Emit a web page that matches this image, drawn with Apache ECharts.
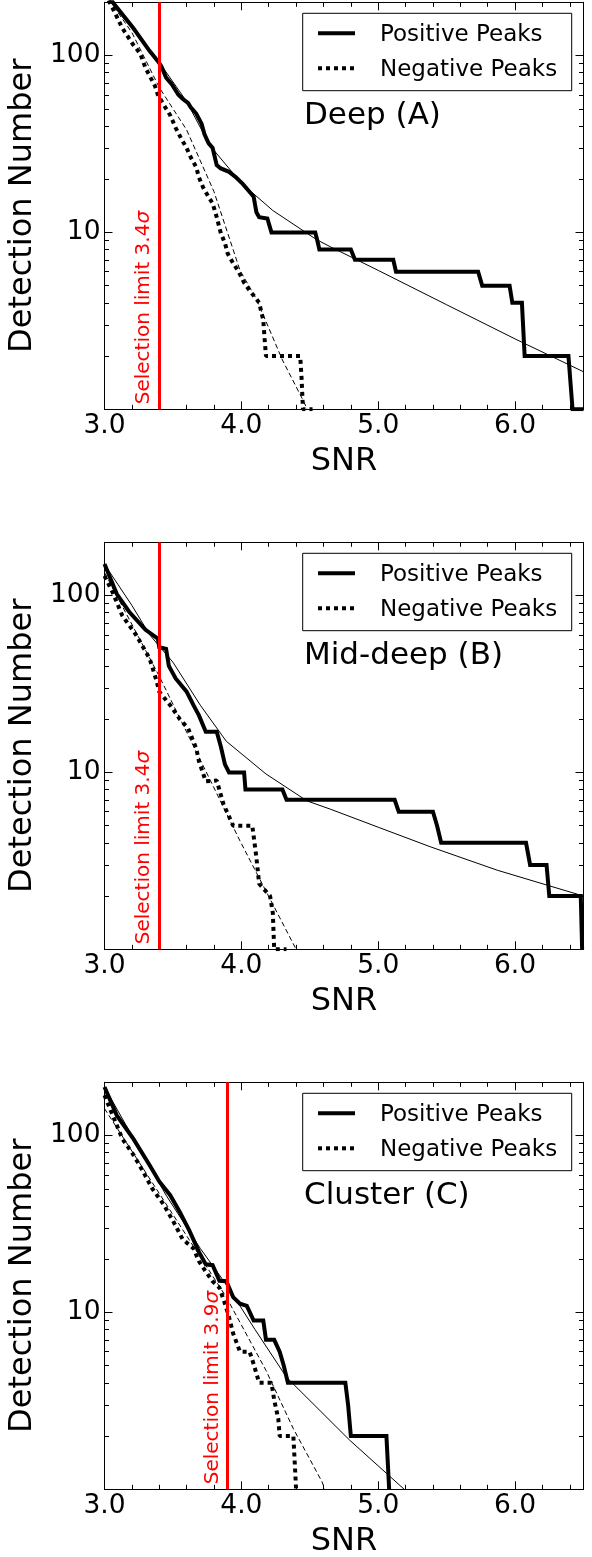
<!DOCTYPE html>
<html>
<head>
<meta charset="utf-8">
<script src="https://cdn.jsdelivr.net/npm/echarts@6/dist/echarts.min.js"></script>
<style>
  html, body { margin: 0; padding: 0; background: #fff; }
  #chart { width: 592px; height: 1557px; }
</style>
</head>
<body>
<div id="chart"></div>
<script>
// ---- axis ranges and ticks ----
const X_MIN = 3.0, X_MAX = 6.5;
const Y_MIN = 1, Y_MAX = 200;
const xMajorTicks = [3, 4, 5, 6];
const xMinorTicks = [3.2, 3.4, 3.6, 3.8, 4.2, 4.4, 4.6, 4.8, 5.2, 5.4, 5.6, 5.8, 6.2, 6.4];
const yMajorTicks = [10, 100];
const yMinorTicks = [2, 3, 4, 5, 6, 7, 8, 9, 20, 30, 40, 50, 60, 70, 80, 90];

const panelTitles = ['Deep (A)', 'Mid-deep (B)', 'Cluster (C)'];
const selectionLimits = [3.4, 3.4, 3.9];
const legendNames = ['Positive Peaks', 'Negative Peaks'];

// ---- cumulative detections: [SNR, N(>SNR)] ----
const posA = [[3.04,215],[3.06,200],[3.21,143],[3.33,106],[3.39,93],[3.415,87],[3.45,75],[3.49,69],[3.54,60],[3.57,57],[3.61,54],[3.63,51],[3.67,47],[3.71,41],[3.73,36],[3.76,32],[3.79,30],[3.82,24],[3.85,23],[3.91,22],[3.96,20.5],[4.01,18.8],[4.05,17.3],[4.09,15.9],[4.11,13],[4.13,12.2],[4.19,12],[4.22,10],[4.54,10],[4.555,9],[4.57,8],[4.80,8],[4.83,7],[5.11,7],[5.13,6],[5.73,6],[5.76,5],[5.96,5],[5.98,4],[6.05,4],[6.07,2],[6.39,2],[6.42,1],[6.5,1]];
const negA = [[3.03,205],[3.06,185],[3.13,143],[3.21,115],[3.26,103],[3.30,85],[3.37,67],[3.39,60],[3.43,53],[3.48,46],[3.52,39],[3.56,34],[3.60,30],[3.63,26.6],[3.67,23.4],[3.69,20.5],[3.72,18],[3.76,15.9],[3.79,14.6],[3.82,12.2],[3.85,9.9],[3.88,8.7],[3.90,7.6],[3.94,6.7],[3.98,6],[4.02,5.2],[4.06,4.7],[4.11,4.2],[4.13,4],[4.16,3.2],[4.17,2.5],[4.18,2],[4.43,2],[4.44,1.5],[4.45,1],[4.52,1]];
const fitPosA = [[3.0,230],[3.2,145],[3.39,94],[3.6,55],[3.77,31],[4.0,19],[4.23,13.3],[4.55,9.1],[4.65,8.3],[5.0,6.1],[5.5,3.9],[6.0,2.5],[6.5,1.63]];
const fitNegA = [[3.0,225],[3.2,135],[3.4,66],[3.6,38],[3.8,17],[3.99,6.1],[4.11,4.2],[4.3,1.9],[4.46,1.09],[4.48,1.0]];

const posB = [[3.0,151],[3.09,102],[3.18,81],[3.30,64],[3.39,57],[3.40,51],[3.45,50],[3.47,40],[3.52,34],[3.60,28.6],[3.65,24],[3.69,21],[3.74,17],[3.82,17],[3.85,14],[3.88,11.1],[3.91,10],[4.02,10],[4.03,8],[4.30,8],[4.33,7],[5.12,7],[5.15,6],[5.40,6],[5.43,5],[5.46,4],[6.08,4],[6.11,3],[6.23,3],[6.25,2],[6.48,2],[6.49,1]];
const negB = [[3.0,129],[3.06,104],[3.13,77],[3.23,60],[3.33,44],[3.38,33],[3.40,28.6],[3.48,24],[3.55,20],[3.61,17.8],[3.67,13.7],[3.69,11.6],[3.74,8.9],[3.82,9],[3.87,6.6],[3.94,5],[4.08,5],[4.11,3.3],[4.13,2.35],[4.21,2],[4.23,1.6],[4.24,1],[4.33,1]];
const fitPosB = [[3.0,150],[3.1,115],[3.2,88],[3.33,60],[3.5,42],[3.7,24],[3.89,15],[4.18,9.8],[4.48,6.9],[4.65,6.2],[5.0,4.9],[5.38,3.8],[5.87,2.8],[6.5,2.0]];
const fitNegB = [[3.0,135],[3.4,35],[3.99,4.1],[4.40,1.0]];

const posC = [[3.0,188],[3.09,130],[3.21,96],[3.33,68],[3.40,55],[3.48,46],[3.55,37],[3.62,29],[3.69,22],[3.74,18.7],[3.79,18.5],[3.84,15.1],[3.89,15],[3.94,12.2],[3.99,11.2],[4.04,10.9],[4.09,9],[4.16,9],[4.18,7],[4.24,7],[4.28,6],[4.31,5],[4.34,4],[4.76,4],[4.78,3],[4.80,2],[5.06,2],[5.08,1]];
const negC = [[3.0,169],[3.06,130],[3.13,96],[3.21,78],[3.28,63],[3.35,50],[3.43,41],[3.50,33],[3.57,26],[3.65,23],[3.69,19.5],[3.74,17],[3.79,15],[3.84,13.8],[3.88,11.2],[3.91,9.4],[3.94,7.6],[3.99,6],[4.06,6],[4.09,5.1],[4.13,4],[4.22,4],[4.24,3.2],[4.27,2.5],[4.28,2],[4.38,2],[4.40,1],[4.42,1]];
const fitPosC = [[3.0,188],[3.2,100],[3.45,46],[3.7,23],[3.9,14],[4.1,8],[4.33,4.3],[4.79,1.9],[5.19,1.0]];
const fitNegC = [[3.0,142],[3.45,41],[3.89,12.2],[4.18,4.7],[4.38,2.2],[4.59,1.1],[4.61,1.0]];

const panels = [
  { pos: posA, neg: negA, fitPos: fitPosA, fitNeg: fitNegA },
  { pos: posB, neg: negB, fitPos: fitPosB, fitNeg: fitNegB },
  { pos: posC, neg: negC, fitPos: fitPosC, fitNeg: fitNegC }
];

// ---- layout ----
const FONT = 'DejaVu Sans';
const GRID_LEFT = 104.5, GRID_W = 479, GRID_H = 407;
const GRID_TOPS = [2.3, 542.3, 1082.3];
const TICK_COLOR = '#000';
const SPINE = { show: true, lineStyle: { color: '#000', width: 1 } };

function tick(values, len) {
  return { show: true, inside: true, length: len, customValues: values,
           lineStyle: { color: TICK_COLOR, width: 1 } };
}

const grids = [], xAxes = [], yAxes = [], series = [], graphics = [];

panels.forEach((p, i) => {
  const top = GRID_TOPS[i];
  grids.push({ left: GRID_LEFT, top: top, width: GRID_W, height: GRID_H,
               containLabel: false, outerBoundsMode: 'none' });

  const xb = { gridIndex: i, type: 'value', min: X_MIN, max: X_MAX,
               splitLine: { show: false }, axisLabel: { show: false } };
  xAxes.push(Object.assign({}, xb, {
    position: 'bottom', axisLine: SPINE, axisTick: tick(xMajorTicks, 8),
    axisLabel: { show: true, customValues: xMajorTicks, formatter: v => v.toFixed(1),
                 color: '#000', fontFamily: FONT, fontSize: 26.5, margin: 3 },
    name: 'SNR', nameLocation: 'middle', nameGap: 36,
    nameTextStyle: { color: '#000', fontFamily: FONT, fontSize: 32 }
  }));
  xAxes.push(Object.assign({}, xb, { position: 'bottom', axisLine: { show: false }, axisTick: tick(xMinorTicks, 4.5) }));
  xAxes.push(Object.assign({}, xb, { position: 'top', axisLine: SPINE, axisTick: tick(xMajorTicks, 8) }));
  xAxes.push(Object.assign({}, xb, { position: 'top', axisLine: { show: false }, axisTick: tick(xMinorTicks, 4.5) }));

  const yb = { gridIndex: i, type: 'log', logBase: 10, min: Y_MIN, max: Y_MAX,
               splitLine: { show: false }, axisLabel: { show: false } };
  yAxes.push(Object.assign({}, yb, {
    position: 'left', axisLine: SPINE, axisTick: tick(yMajorTicks, 8),
    axisLabel: { show: true, customValues: yMajorTicks, color: '#000',
                 fontFamily: FONT, fontSize: 26.5, margin: 4 },
    name: 'Detection Number', nameLocation: 'middle', nameGap: 60,
    nameTextStyle: { color: '#000', fontFamily: FONT, fontSize: 32 }
  }));
  yAxes.push(Object.assign({}, yb, { position: 'left', axisLine: { show: false }, axisTick: tick(yMinorTicks, 4.5) }));
  yAxes.push(Object.assign({}, yb, { position: 'right', axisLine: SPINE, axisTick: tick(yMajorTicks, 8) }));
  yAxes.push(Object.assign({}, yb, { position: 'right', axisLine: { show: false }, axisTick: tick(yMinorTicks, 4.5) }));

  const ax = { xAxisIndex: 4 * i, yAxisIndex: 4 * i, type: 'line', showSymbol: false,
               symbol: 'none', silent: true, animation: false, clip: true };

  // fitted models
  series.push(Object.assign({}, ax, { name: 'fit+', data: p.fitPos,
    lineStyle: { color: '#000', width: 1 } }));
  series.push(Object.assign({}, ax, { name: 'fit-', data: p.fitNeg,
    lineStyle: { color: '#000', width: 1, type: [5, 3] } }));
  // negative peaks (dotted)
  series.push(Object.assign({}, ax, { name: legendNames[1], data: p.neg,
    lineStyle: { color: '#000', width: 4, type: [4, 4], cap: 'butt' } }));
  // positive peaks (solid) + selection limit
  const lim = selectionLimits[i];
  series.push(Object.assign({}, ax, { name: legendNames[0], data: p.pos,
    lineStyle: { color: '#000', width: 4, join: 'miter' },
    markLine: {
      silent: true, symbol: 'none', animation: false,
      lineStyle: { color: '#ff0000', width: 3, type: 'solid' },
      label: {
        show: true, position: 'insideStartTop', distance: 5,
        formatter: 'Selection limit ' + lim.toFixed(1) + '{s|σ}',
        color: '#ff0000', fontFamily: FONT, fontSize: 20,
        rich: { s: { color: '#ff0000', fontFamily: FONT, fontSize: 20, fontStyle: 'italic' } }
      },
      data: [{ xAxis: lim }]
    }
  }));

  // legend box
  const lx = 302.7, ly = top + 11, lw = 269, lh = 77.4;
  graphics.push({ type: 'rect', shape: { x: lx, y: ly, width: lw, height: lh },
                  style: { fill: '#fff', stroke: '#000', lineWidth: 1 }, z: 100 });
  graphics.push({ type: 'line', shape: { x1: 318, y1: top + 31, x2: 355, y2: top + 31 },
                  style: { stroke: '#000', lineWidth: 4 }, z: 101 });
  graphics.push({ type: 'line', shape: { x1: 318, y1: top + 66, x2: 355, y2: top + 66 },
                  style: { stroke: '#000', lineWidth: 4, lineDash: [4, 4] }, z: 101 });
  graphics.push({ type: 'text', x: 380, y: top + 32.5, z: 101,
                  style: { text: legendNames[0], fill: '#000', font: '23px "DejaVu Sans"', verticalAlign: 'middle' } });
  graphics.push({ type: 'text', x: 380, y: top + 67.5, z: 101,
                  style: { text: legendNames[1], fill: '#000', font: '23px "DejaVu Sans"', verticalAlign: 'middle' } });
  // panel title
  graphics.push({ type: 'text', x: 304, y: top + 114, z: 101,
                  style: { text: panelTitles[i], fill: '#000', font: '31px "DejaVu Sans"', verticalAlign: 'middle' } });
});

const chart = echarts.init(document.getElementById('chart'), null, { renderer: 'canvas' });
chart.setOption({
  animation: false,
  backgroundColor: '#fff',
  grid: grids,
  xAxis: xAxes,
  yAxis: yAxes,
  series: series,
  graphic: graphics
});
</script>
</body>
</html>
